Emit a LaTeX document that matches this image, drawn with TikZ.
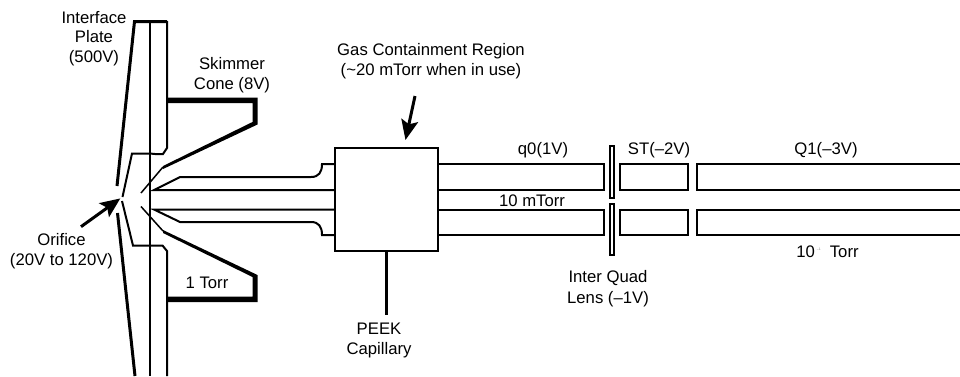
\documentclass[tikz,border=0pt]{standalone}
\usepackage{fontspec}
\setmainfont{Liberation Sans}
\usetikzlibrary{arrows.meta}
\tikzset{
  label/.style = {align=center, inner sep=0pt, font=\fontsize{16.7}{19.5}\selectfont},
  wall/.style = {line width=2pt},
  thinwall/.style = {line width=1.5pt},
  heavy/.style = {line width=3pt},
  pointer/.style = {line width=3pt, -{Stealth[length=20pt,width=17pt,inset=4pt]}, shorten >=-1pt}
}
\begin{document}
\begin{tikzpicture}[x=1pt,y=-1pt]
        \useasboundingbox (0,0) rectangle (960,376);
        % interface plate
        \draw[heavy] (117,186) -- (134.5,21.5) -- (167,21.5);
        \draw[heavy] (117.5,213) -- (135,376);
        \draw[wall] (150,22) -- (150,376);
        \draw[wall] (167,21) -- (167,148) -- (163,154) -- (155,154) -- (150,153.5) -- (132,153.5) -- (122.5,197);
        \draw[wall] (167,376) -- (167,251) -- (162.5,245.5) -- (155,245.5) -- (150,245.5) -- (133,245.5) -- (122,201);
        % skimmer cone
        \fill (168,97.5) -- (257.5,97.5) -- (257.5,124.5) -- (163,169) -- (163,166) -- (252.5,122) -- (252.5,103) -- (168,103) -- cycle;
        \fill (168,302) -- (257.5,302) -- (257.5,275) -- (163,230) -- (163,233) -- (252.5,277) -- (252.5,296.5) -- (168,296.5) -- cycle;
        \draw[thinwall] (163,167) -- (141,193);
        \draw[thinwall] (141,206.5) -- (163,231);
        % capillary
        \node[draw, wall, minimum width=103pt, minimum height=103pt, inner sep=0pt] (gas) at (386.5,199.5) {};
        \draw[wall] (gas.west |- 0,164) -- (322,164) .. controls (322,172) and (319,177) .. (311,177) -- (180,177) -- (154,190) -- (gas.west |- 0,190);
        \draw[wall] (gas.west |- 0,235) -- (322,235) .. controls (322,227) and (319,222) .. (311,222) -- (180,222) -- (154,209.5) -- (gas.west |- 0,209.5);
        % quads
        \draw[wall] (gas.east |- 0,164) -- (604,164) -- (604,190) -- (gas.east |- 0,190);
        \draw[wall] (gas.east |- 0,209.5) -- (604,209.5) -- (604,235) -- (gas.east |- 0,235);
        \draw[wall] (609.5,146) rectangle (614,197.5);
        \draw[wall] (609.5,203.5) rectangle (614,255);
        \draw[wall] (619.5,164) rectangle (687.5,190);
        \draw[wall] (619.5,209.5) rectangle (687.5,235);
        \draw[wall] (961,164) -- (696.5,164) -- (696.5,190) -- (961,190);
        \draw[wall] (961,209.5) -- (696.5,209.5) -- (696.5,235) -- (961,235);
        % labels
        \node[label] (plate) at (94,38.5) {Interface\\Plate\\(500V)};
        \node[label] (skimmer) at (232,75) {Skimmer\\Cone (8V)};
        \node[label] (region) at (431,61) {Gas Containment Region\\(\textasciitilde 20 mTorr when in use)};
        \node[label] (orifice) at (61.5,251) {Orifice\\(20V to 120V)};
        \node[label] (torr1) at (207,283) {1 Torr};
        \node[label] (q0) at (543,150) {q0(1V)};
        \node[label] (mtorr) at (532,200.5) {10 mTorr};
        \node[label] (st) at (659,150) {ST(--2V)};
        \node[label] (q1) at (826,150) {Q1(--3V)};
        \node[label] (torr2) at (827.5,252) {10\hspace{2pt}\raisebox{7pt}{\fontsize{3.5}{4}\selectfont\color{gray}--1}\hspace{9pt}Torr};
        \node[label] (lens) at (608,288.5) {Inter Quad\\[1.5pt]Lens (--1V)};
        \node[label] (peek) at (379,340.5) {PEEK\\Capillary};
        % pointers
        \coordinate (gasin) at (405.7,139);
        \coordinate (gastail) at (415,96);
        \coordinate (orin) at (119.5,199);
        \coordinate (ortail) at (81,226.7);
        \coordinate (capend) at (386,315);
        \draw[pointer] (gastail) -- (gasin);
        \draw[pointer] (ortail) -- (orin);
        \draw[heavy] (gas.south -| capend) -- (capend);
\end{tikzpicture}
\end{document}
